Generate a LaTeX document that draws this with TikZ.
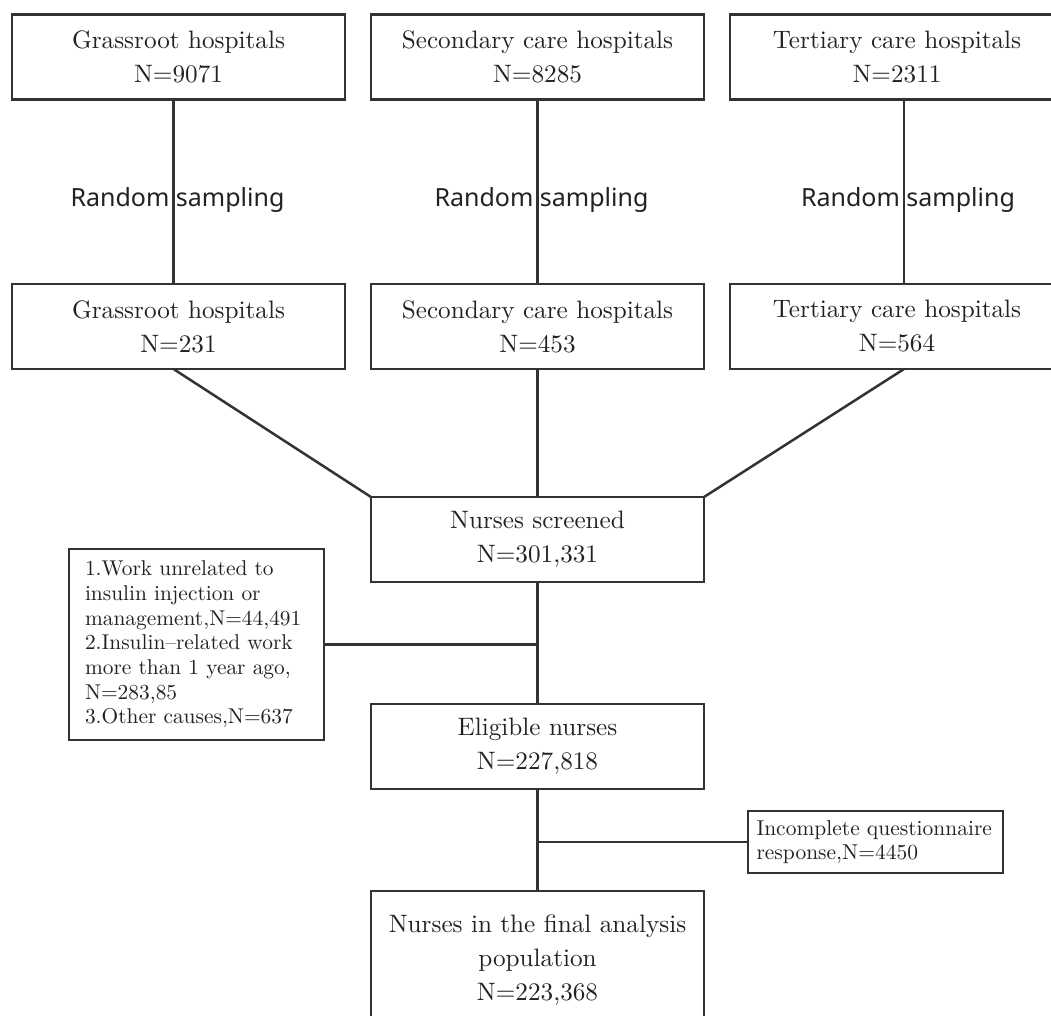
\documentclass[tikz,border=0pt]{standalone}
\usepackage{fontspec}
\setmainfont{lmroman10-regular.otf}
\newfontfamily\rsfont{Noto Sans}
\usetikzlibrary{calc}
\definecolor{ink}{HTML}{333333}
\definecolor{txt}{HTML}{222222}
\begin{document}
\begin{tikzpicture}[x=1pt,y=-1pt,
  box/.style={draw=ink, line width=2.3pt, rectangle, minimum width=333pt, minimum height=85pt,
    align=center, font=\fontsize{25.2}{34}\selectfont, text=txt, inner sep=0pt, outer sep=0pt},
  smallbox/.style={box, align=left, font=\fontsize{21.4}{24.7}\selectfont},
  conn/.style={draw=ink, line width=2.5pt},
  rslabel/.style={font=\rsfont\fontsize{25}{30}\selectfont, text=txt, inner sep=0pt, anchor=base}]
\useasboundingbox (0,0) rectangle (1051,1015);
\clip (0,0) rectangle (1051,1015);
\fill[white] (0,0) rectangle (1051,1015);

% top row
\node[box] (g1) at (178.5,57) {Grassroot hospitals\\N=9071};
\node[box] (s1) at (537.5,57) {Secondary care hospitals\\N=8285};
\node[box, minimum width=334pt] (t1) at (897,57) {Tertiary care hospitals\\N=2311};

% second row
\node[box] (g2) at (178.5,326.5) {Grassroot hospitals\\N=231};
\node[box] (s2) at (537.5,326.5) {Secondary care hospitals\\N=453};
\node[box, minimum width=334pt] (t2) at (897,326.5) {Tertiary care hospitals\\N=564};

% flow
\node[box] (scr) at (537.5,539.5) {Nurses screened\\N=301,331};
\node[smallbox, minimum width=255pt, minimum height=191pt, text width=223pt] (ex) at (196.5,644.5)
  {1.Work unrelated to\\insulin injection or\\management,N=44,491\\2.Insulin--related work\\more than 1 year ago,\\N=283,85\\3.Other causes,N=637};
\node[box] (elig) at (537.5,746.5) {Eligible nurses\\N=227,818};
\node[smallbox, minimum width=255pt, minimum height=62pt, text width=238pt, font=\fontsize{21.5}{24}\selectfont] (inc) at (875.5,842)
  {Incomplete questionnaire\\response,N=4450};
\node[box, minimum height=138pt] (fin) at (537.5,960) {Nurses in the final analysis\\population\\N=223,368};

% sampling connectors
\draw[conn] ([xshift=-5pt]g1.south) -- ([xshift=-5pt]g2.north)
  node[rslabel, midway, xshift=4pt, yshift=-15pt] (rs1) {Random sampling};
\draw[conn] (s1.south) -- (s2.north)
  node[rslabel, midway, xshift=4pt, yshift=-15pt] (rs2) {Random sampling};
\draw[conn] ([xshift=7pt]t1.south) -- ([xshift=7pt]t2.north)
  node[rslabel, midway, xshift=4pt, yshift=-15pt] (rs3) {Random sampling};

% merge
\draw[conn] ([xshift=-5pt]g2.south) -- (scr.north west);
\draw[conn] (s2.south) -- (scr.north);
\draw[conn] ([xshift=7pt]t2.south) -- (scr.north east);

% main spine
\draw[conn] (scr.south) -- (elig.north);
\draw[conn] (ex.east) -- (ex.east -| scr.south);
\draw[conn] (elig.south) -- (fin.north);
\draw[conn] (inc.west -| elig.south) -- (inc.west);
\end{tikzpicture}
\end{document}
